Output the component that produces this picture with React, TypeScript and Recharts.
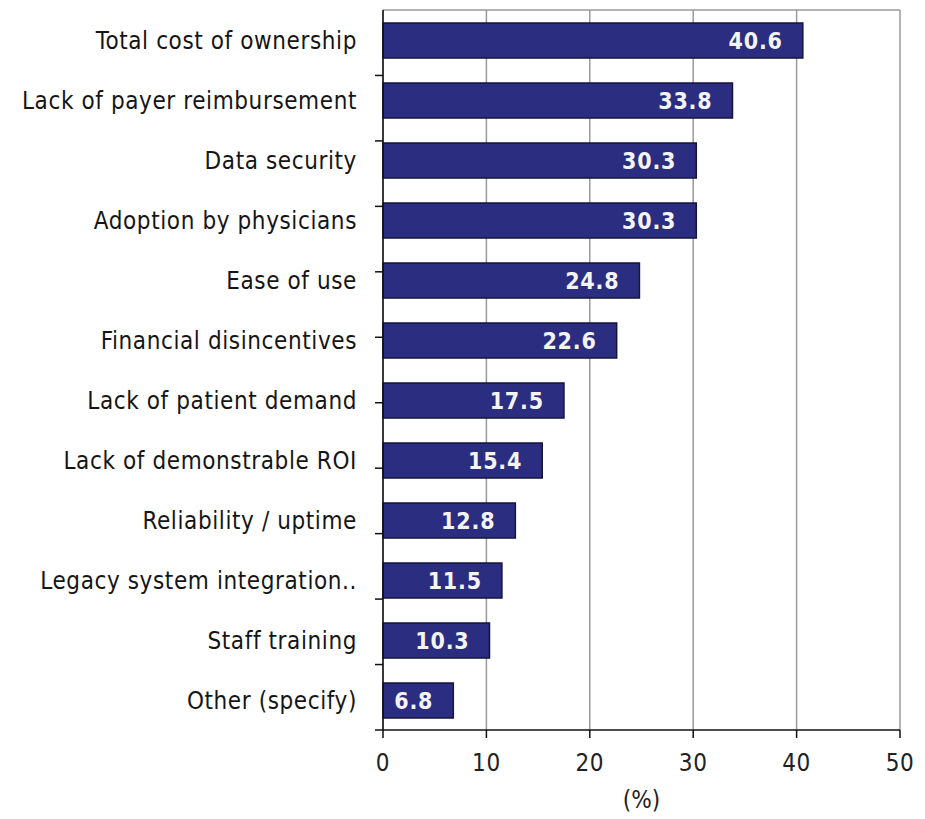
import React from 'react';
import { BarChart, Bar, XAxis, YAxis, CartesianGrid, LabelList } from 'recharts';

const categories = [
  'Total cost of ownership',
  'Lack of payer reimbursement',
  'Data security',
  'Adoption by physicians',
  'Ease of use',
  'Financial disincentives',
  'Lack of patient demand',
  'Lack of demonstrable ROI',
  'Reliability / uptime',
  'Legacy system integration..',
  'Staff training',
  'Other (specify)',
];

const shares = [40.6, 33.8, 30.3, 30.3, 24.8, 22.6, 17.5, 15.4, 12.8, 11.5, 10.3, 6.8];

const xTicks = [0, 10, 20, 30, 40, 50];

// Row boundaries, used for the tick marks between categories
const rowEdges = categories.map((_, i) => i).concat([categories.length]);

const data = categories.map((name, i) => ({ name, value: shares[i] }));

const FONT = '"Liberation Sans Narrow", "DejaVu Sans Condensed", "Arial Narrow", sans-serif';

const CategoryTick = (props: any) => {
  const { x, y, payload } = props;
  return (
    <text
      x={x}
      y={y}
      dy="0.36em"
      textAnchor="end"
      fontFamily={FONT}
      fontSize={24}
      letterSpacing={0.6}
      fill="#151515"
    >
      {payload.value}
    </text>
  );
};

const EmptyTick = () => <g />;

const ValueTick = (props: any) => {
  const { x, y, payload } = props;
  return (
    <text
      x={x}
      y={y}
      dy="0.71em"
      textAnchor="middle"
      fontFamily={FONT}
      fontSize={24}
      letterSpacing={0.6}
      fill="#222"
    >
      {payload.value}
    </text>
  );
};

const UnitLabel = (props: any) => {
  const { viewBox } = props;
  const cx = viewBox.x + viewBox.width / 2;
  return (
    <text
      x={cx}
      y={viewBox.y + 78}
      textAnchor="middle"
      fontFamily={FONT}
      fontSize={24}
      fill="#222"
    >
      (%)
    </text>
  );
};

export default function App() {
  return (
    <div style={{ position: 'absolute', left: 0, top: 0, width: 925, height: 819, background: '#fff' }}>
      <BarChart
        width={925}
        height={819}
        data={data}
        layout="vertical"
        margin={{ top: 9, right: 25, bottom: 0, left: 0 }}
        barCategoryGap={0}
      >
        <CartesianGrid horizontal={false} stroke="#9a9a9a" strokeWidth={1.5} />
        <XAxis
          xAxisId="top"
          orientation="top"
          type="number"
          domain={[0, 50]}
          ticks={xTicks}
          height={1}
          tick={<EmptyTick />}
          tickLine={false}
          axisLine={{ stroke: '#9a9a9a', strokeWidth: 1.5 }}
        />
        <XAxis
          type="number"
          domain={[0, 50]}
          ticks={xTicks}
          height={89}
          tickSize={8}
          tickMargin={16}
          tick={<ValueTick />}
          axisLine={{ stroke: '#111', strokeWidth: 1.5 }}
          tickLine={{ stroke: '#111', strokeWidth: 1.5 }}
          label={<UnitLabel />}
        />
        {/* inner left axis: the vertical axis line and the tick marks between rows */}
        <YAxis
          type="number"
          domain={[0, categories.length]}
          ticks={rowEdges}
          allowDataOverflow
          reversed
          width={1}
          tickSize={8}
          tick={<EmptyTick />}
          tickLine={{ stroke: '#111', strokeWidth: 1.5 }}
          axisLine={{ stroke: '#111', strokeWidth: 1.5 }}
        />
        {/* outer left axis: the category names */}
        <YAxis
          yAxisId="cat"
          type="category"
          dataKey="name"
          width={382}
          interval={0}
          tickSize={8}
          tickMargin={17}
          tick={<CategoryTick />}
          axisLine={false}
          tickLine={false}
        />
        <Bar
          yAxisId="cat"
          dataKey="value"
          fill="#2b2d80"
          stroke="#15153a"
          strokeWidth={1.5}
          barSize={35}
          isAnimationActive={false}
        >
          <LabelList
            dataKey="value"
            position="insideRight"
            offset={20}
            formatter={(v: any) => Number(v).toFixed(1)}
            fill="#f4f4f4"
            fontFamily={FONT}
            fontWeight="bold"
            fontSize={23}
            letterSpacing={0.8}
          />
        </Bar>
      </BarChart>
    </div>
  );
}
